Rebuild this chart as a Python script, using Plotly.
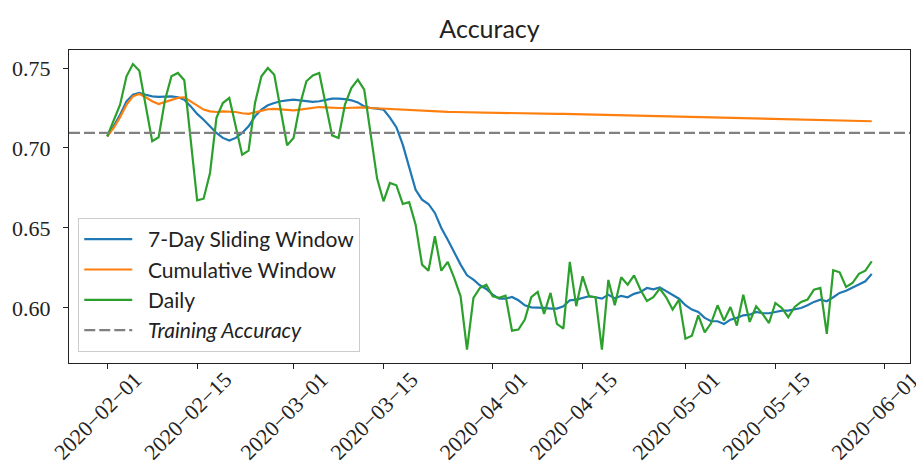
import pandas as pd
import plotly.graph_objects as go

start_date = "2020-02-01"
n_days = 120
dates = pd.date_range(start_date, periods=n_days, freq="D")

daily = [
    0.7073, 0.7177, 0.7271, 0.7448, 0.7525, 0.7483, 0.7250, 0.7042, 0.7067, 0.7302,
    0.7448, 0.7469, 0.7423, 0.7048, 0.6673, 0.6683, 0.6844, 0.7188, 0.7281, 0.7313,
    0.7135, 0.6958, 0.6983, 0.7281, 0.7448, 0.7500, 0.7458, 0.7238, 0.7017, 0.7063,
    0.7271, 0.7417, 0.7454, 0.7469, 0.7275, 0.7079, 0.7063, 0.7271, 0.7375, 0.7427,
    0.7365, 0.7094, 0.6810, 0.6667, 0.6781, 0.6767, 0.6650, 0.6661, 0.6521, 0.6271,
    0.6233, 0.6448, 0.6233, 0.6288, 0.6188, 0.6073, 0.5739, 0.6063, 0.6125, 0.6146,
    0.6073, 0.6063, 0.6077, 0.5858, 0.5865, 0.5927, 0.6067, 0.6100, 0.5963, 0.6094,
    0.5900, 0.5871, 0.6288, 0.6011, 0.6198, 0.6073, 0.6067, 0.5739, 0.6175, 0.6017,
    0.6192, 0.6146, 0.6204, 0.6114, 0.6044, 0.6068, 0.6121, 0.6067, 0.5990, 0.6052,
    0.5808, 0.5827, 0.5954, 0.5848, 0.5906, 0.6017, 0.5921, 0.6006, 0.5890, 0.6083,
    0.5913, 0.6010, 0.5963, 0.5906, 0.6031, 0.6000, 0.5942, 0.6006, 0.6038, 0.6052,
    0.6114, 0.6125, 0.5838, 0.6236, 0.6223, 0.6131, 0.6156, 0.6213, 0.6233, 0.6292,
]

sliding_7day = [
    0.7073, 0.7135, 0.7208, 0.7292, 0.7333, 0.7344, 0.7333, 0.7323, 0.7319, 0.7323,
    0.7323, 0.7317, 0.7302, 0.7260, 0.7213, 0.7177, 0.7135, 0.7094, 0.7063, 0.7046,
    0.7063, 0.7094, 0.7135, 0.7198, 0.7240, 0.7267, 0.7281, 0.7292, 0.7298, 0.7302,
    0.7298, 0.7292, 0.7288, 0.7292, 0.7302, 0.7308, 0.7308, 0.7306, 0.7298, 0.7285,
    0.7260, 0.7250, 0.7246, 0.7240, 0.7190, 0.7130, 0.7021, 0.6875, 0.6739, 0.6677,
    0.6650, 0.6594, 0.6500, 0.6427, 0.6348, 0.6271, 0.6204, 0.6177, 0.6142, 0.6119,
    0.6083, 0.6058, 0.6058, 0.6069, 0.6048, 0.6017, 0.6004, 0.6004, 0.6000, 0.5996,
    0.5996, 0.6011, 0.6048, 0.6052, 0.6063, 0.6073, 0.6067, 0.6058, 0.6083, 0.6060,
    0.6076, 0.6067, 0.6088, 0.6100, 0.6125, 0.6117, 0.6129, 0.6104, 0.6079, 0.6058,
    0.6017, 0.5990, 0.5975, 0.5938, 0.5917, 0.5917, 0.5900, 0.5927, 0.5938, 0.5954,
    0.5958, 0.5975, 0.5967, 0.5967, 0.5975, 0.5983, 0.5983, 0.5990, 0.6000, 0.6017,
    0.6038, 0.6052, 0.6042, 0.6067, 0.6094, 0.6108, 0.6129, 0.6146, 0.6167, 0.6213,
]

cumulative = [
    0.7073, 0.7125, 0.7192, 0.7271, 0.7323, 0.7338, 0.7317, 0.7292, 0.7275, 0.7288,
    0.7302, 0.7313, 0.7317, 0.7292, 0.7267, 0.7240, 0.7229, 0.7225, 0.7229, 0.7229,
    0.7225, 0.7217, 0.7213, 0.7223, 0.7233, 0.7242, 0.7244, 0.7240, 0.7238, 0.7235,
    0.7240, 0.7246, 0.7252, 0.7256, 0.7254, 0.7250, 0.7250, 0.7250, 0.7252, 0.7254,
    0.7254, 0.7250, 0.7248, 0.7246, 0.7243, 0.7240, 0.7237, 0.7234, 0.7232, 0.7230,
    0.7229, 0.7228, 0.7227, 0.7226, 0.7225, 0.7224, 0.7223, 0.7222, 0.7222, 0.7221,
    0.7220, 0.7220, 0.7219, 0.7218, 0.7218, 0.7217, 0.7216, 0.7216, 0.7215, 0.7214,
    0.7213, 0.7213, 0.7212, 0.7211, 0.7211, 0.7210, 0.7209, 0.7208, 0.7208, 0.7207,
    0.7206, 0.7205, 0.7205, 0.7204, 0.7203, 0.7202, 0.7201, 0.7200, 0.7199, 0.7198,
    0.7197, 0.7196, 0.7195, 0.7194, 0.7193, 0.7192, 0.7191, 0.7190, 0.7189, 0.7188,
    0.7187, 0.7186, 0.7185, 0.7184, 0.7183, 0.7182, 0.7181, 0.7180, 0.7179, 0.7178,
    0.7177, 0.7176, 0.7175, 0.7174, 0.7173, 0.7172, 0.7171, 0.7170, 0.7169, 0.7167,
]

training_accuracy = 0.7094

x_tick_dates = ["2020-02-01", "2020-02-15", "2020-03-01", "2020-03-15", "2020-04-01",
                "2020-04-15", "2020-05-01", "2020-05-15", "2020-06-01"]
x_tick_text = [d.replace("-", "\u2212") for d in x_tick_dates]
y_tick_vals = [0.60, 0.65, 0.70, 0.75]
y_tick_text = ["0.60", "0.65", "0.70", "0.75"]

series_names = ["7-Day Sliding Window", "Cumulative Window", "Daily", "<i>Training Accuracy</i>"]
series_colors = ["#1f77b4", "#ff7f0e", "#2ca02c", "#808080"]

SANS = "Lato, 'Open Sans', sans-serif"
SERIF = "'Liberation Serif', 'DejaVu Serif', serif"
NB = "\u00a0\u00a0"

fig = go.Figure()
for name, color, values in zip(series_names[:3], series_colors[:3],
                               [sliding_7day, cumulative, daily]):
    fig.add_trace(go.Scatter(x=dates, y=values, mode="lines", name=NB + name,
                             line=dict(color=color, width=2.2)))
fig.add_trace(go.Scatter(x=[None], y=[None], mode="lines", name=NB + series_names[3],
                         line=dict(color=series_colors[3], width=2.2, dash="11px,4px")))
fig.add_hline(y=training_accuracy, line=dict(color=series_colors[3], width=2.2, dash="11px,4px"))

span = dates[-1] - dates[0]
pad = span * 0.05
fig.update_layout(
    width=924, height=466,
    margin=dict(l=61, r=22, t=42, b=111, autoexpand=False),
    paper_bgcolor="white", plot_bgcolor="white",
    title=dict(text="Accuracy", x=0.5, xref="paper", y=1 - 21 / 466, yref="container",
               xanchor="center", yanchor="middle",
               font=dict(family=SANS, size=25, color="#222")),
    showlegend=True,
    legend=dict(x=0.011, y=0.035, xanchor="left", yanchor="bottom",
                bgcolor="rgba(255,255,255,0.85)", bordercolor="#cccccc", borderwidth=1,
                font=dict(family=SANS, size=21, color="#222"),
                itemwidth=48, tracegroupgap=0),
    xaxis=dict(type="date", range=[dates[0] - pad, dates[-1] + pad],
               tickvals=x_tick_dates, ticktext=x_tick_text, tickangle=-45,
               ticks="outside", ticklen=5, tickwidth=1.1, tickcolor="#222",
               showline=True, linecolor="#222", linewidth=1.2, mirror=True,
               showgrid=False, zeroline=False, automargin=False,
               tickfont=dict(family=SERIF, size=22, color="#222"),
               ticklabelshift=28, ticklabelstandoff=-11, ticklabeloverflow="allow"),
    yaxis=dict(range=[0.5656, 0.76125], tickvals=y_tick_vals, ticktext=y_tick_text,
               ticks="outside", ticklen=5, tickwidth=1.1, tickcolor="#222",
               showline=True, linecolor="#222", linewidth=1.2, mirror=True,
               showgrid=False, zeroline=False, automargin=False,
               tickfont=dict(family=SERIF, size=22, color="#222"),
               ticklabelstandoff=8),
)

fig.write_html("out.html")
